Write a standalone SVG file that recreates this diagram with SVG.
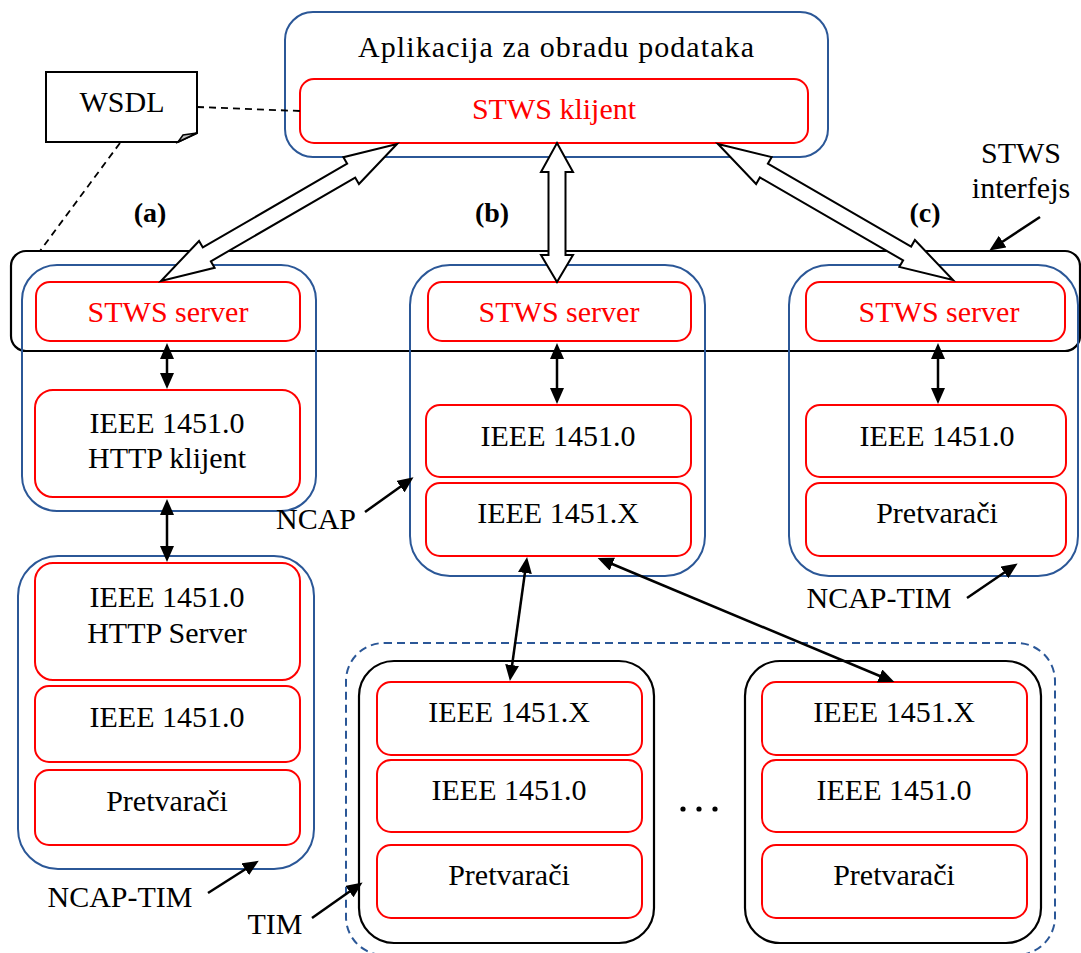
<svg xmlns="http://www.w3.org/2000/svg" width="1081" height="953" viewBox="0 0 1081 953">
<defs>
<style>
.blue{fill:none;stroke:#2B5797;stroke-width:2}
.red{fill:none;stroke:#FF0000;stroke-width:2}
.blk{fill:none;stroke:#000;stroke-width:2.2}
.t{font-family:"Liberation Serif",serif;font-size:30px;fill:#000;text-anchor:middle}
.tr{fill:#FF0000}
.tb{font-weight:bold;font-size:28px}
.dash{fill:none;stroke:#000;stroke-width:1.8;stroke-dasharray:7,5}
.big{fill:#fff;stroke:#000;stroke-width:2;stroke-linejoin:miter}
.ar{stroke:#000;stroke-width:2.5;fill:none}
</style>
<marker id="h" viewBox="0 0 16 14" markerWidth="16" markerHeight="14" refX="8" refY="7" orient="auto-start-reverse" markerUnits="userSpaceOnUse">
<path d="M0,0 L16,7 L0,14 z" fill="#000"/>
</marker>
</defs>
<rect width="1081" height="953" fill="#fff"/>

<g id="stws-interfejs">
<rect class="blk" x="11" y="251" width="1069" height="100" rx="15"/>
<text class="t" x="1021" y="163">STWS</text>
<text class="t" x="1021" y="198">interfejs</text>
</g>

<g id="app">
<rect class="blue" x="285" y="12" width="543" height="145" rx="28"/>
<text class="t" x="556" y="57" textLength="396" lengthAdjust="spacing">Aplikacija za obradu podataka</text>
<rect class="red" x="300" y="79" width="508" height="64" rx="14"/>
<text class="t tr" x="554" y="119">STWS klijent</text>
</g>

<g id="wsdl">
<path d="M46,72 H197 V133 L178,142 H46 Z" fill="#fff" stroke="#000" stroke-width="2"/>
<path d="M178,142 L183,135 L197,133 Z" fill="#BFBFBF" stroke="#000" stroke-width="1.5"/>
<text class="t" x="122" y="112">WSDL</text>
</g>

<g id="ncap-a">
<rect class="blue" x="22" y="265" width="294" height="246" rx="35"/>
<rect class="red" x="36" y="282" width="264" height="59" rx="14"/>
<text class="t tr" x="168" y="322">STWS server</text>
<rect class="red" x="35" y="390" width="265" height="107" rx="18"/>
<text class="t" x="167" y="433">IEEE 1451.0</text>
<text class="t" x="167" y="468">HTTP klijent</text>
</g>

<g id="ncap-tim-a">
<rect class="blue" x="18" y="556" width="296" height="313" rx="40"/>
<rect class="red" x="35" y="563" width="265" height="117" rx="18"/>
<text class="t" x="167" y="607">IEEE 1451.0</text>
<text class="t" x="167" y="643">HTTP Server</text>
<rect class="red" x="35" y="686" width="265" height="76" rx="14"/>
<text class="t" x="167" y="727">IEEE 1451.0</text>
<rect class="red" x="35" y="770" width="265" height="75" rx="14"/>
<text class="t" x="167" y="811">Pretvarači</text>
</g>

<g id="ncap-b">
<rect class="blue" x="410" y="265" width="295" height="311" rx="40"/>
<rect class="red" x="428" y="282" width="263" height="59" rx="14"/>
<text class="t tr" x="559" y="322">STWS server</text>
<rect class="red" x="426" y="405" width="265" height="72" rx="14"/>
<text class="t" x="558" y="446">IEEE 1451.0</text>
<rect class="red" x="426" y="483" width="265" height="73" rx="14"/>
<text class="t" x="558" y="523">IEEE 1451.X</text>
</g>

<g id="ncap-tim-c">
<rect class="blue" x="789" y="265" width="289" height="311" rx="40"/>
<rect class="red" x="806" y="282" width="259" height="59" rx="14"/>
<text class="t tr" x="939" y="322">STWS server</text>
<rect class="red" x="806" y="405" width="260" height="72" rx="14"/>
<text class="t" x="937" y="446">IEEE 1451.0</text>
<rect class="red" x="806" y="483" width="260" height="73" rx="14"/>
<text class="t" x="937" y="523">Pretvarači</text>
</g>

<g id="tim-group">
<rect x="346" y="643" width="709" height="312" rx="38" fill="none" stroke="#2B5797" stroke-width="2" stroke-dasharray="8,5"/>
</g>

<g id="tim-1">
<rect class="blk" x="359" y="661" width="295" height="282" rx="35"/>
<rect class="red" x="377" y="682" width="265" height="73" rx="14"/>
<text class="t" x="509" y="722">IEEE 1451.X</text>
<rect class="red" x="377" y="760" width="265" height="72" rx="14"/>
<text class="t" x="509" y="800">IEEE 1451.0</text>
<rect class="red" x="377" y="845" width="265" height="73" rx="14"/>
<text class="t" x="509" y="885">Pretvarači</text>
</g>

<g id="tim-n">
<rect class="blk" x="745" y="661" width="296" height="282" rx="35"/>
<rect class="red" x="762" y="682" width="265" height="73" rx="14"/>
<text class="t" x="894" y="722">IEEE 1451.X</text>
<rect class="red" x="762" y="760" width="265" height="72" rx="14"/>
<text class="t" x="894" y="800">IEEE 1451.0</text>
<rect class="red" x="762" y="845" width="265" height="73" rx="14"/>
<text class="t" x="894" y="885">Pretvarači</text>
</g>

<g id="dots">
<circle cx="683" cy="809" r="2.6"/>
<circle cx="699" cy="809" r="2.6"/>
<circle cx="715" cy="809" r="2.6"/>
</g>

<g id="labels">
<text class="t tb" x="150" y="222">(a)</text>
<text class="t tb" x="492" y="222">(b)</text>
<text class="t tb" x="925" y="222">(c)</text>
<text class="t" x="316" y="529">NCAP</text>
<text class="t" x="879" y="608">NCAP-TIM</text>
<text class="t" x="120" y="907">NCAP-TIM</text>
<text class="t" x="275" y="934">TIM</text>
</g>

<g id="connectors">
<line class="dash" x1="197" y1="107" x2="300" y2="111"/>
<line class="dash" x1="120" y1="143" x2="40" y2="251"/>

<polygon class="big" points="397,144 358.95,184.01 355.19,177.53 210.85,261.31 214.61,267.79 161,281 199.05,240.99 202.81,247.47 347.15,163.69 343.39,157.21"/>
<polygon class="big" points="557,143 573,172 565.5,172 565.5,255 573,255 557,282 541,255 548.5,255 548.5,172 541,172"/>
<polygon class="big" points="718,144 771.63,157.13 767.88,163.63 911.14,246.53 914.89,240.03 953,280 899.37,266.87 903.12,260.37 759.86,177.47 756.11,183.97"/>

<line class="ar" x1="167" y1="351" x2="167" y2="381" marker-start="url(#h)" marker-end="url(#h)"/>
<line class="ar" x1="167" y1="507" x2="167" y2="554" marker-start="url(#h)" marker-end="url(#h)"/>
<line class="ar" x1="557" y1="351" x2="557" y2="396" marker-start="url(#h)" marker-end="url(#h)"/>
<line class="ar" x1="938" y1="351" x2="938" y2="396" marker-start="url(#h)" marker-end="url(#h)"/>
<line class="ar" x1="526" y1="565" x2="511" y2="673" marker-start="url(#h)" marker-end="url(#h)"/>
<line class="ar" x1="605" y1="561" x2="887" y2="679" marker-start="url(#h)" marker-end="url(#h)"/>

<line class="ar" x1="1040" y1="217" x2="996" y2="246" marker-end="url(#h)"/>
<line class="ar" x1="365" y1="512" x2="407" y2="482" marker-end="url(#h)"/>
<line class="ar" x1="967" y1="598" x2="1011" y2="568" marker-end="url(#h)"/>
<line class="ar" x1="208" y1="893" x2="252" y2="865" marker-end="url(#h)"/>
<line class="ar" x1="312" y1="918" x2="356" y2="887" marker-end="url(#h)"/>
</g>
</svg>
